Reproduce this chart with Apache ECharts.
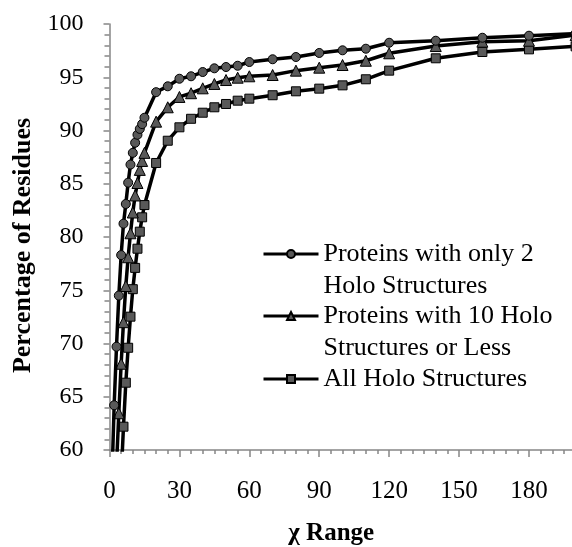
<!DOCTYPE html>
<html>
<head>
<meta charset="utf-8">
<script src="https://cdn.jsdelivr.net/npm/echarts@6/dist/echarts.min.js"></script>
<style>html,body{margin:0;padding:0;background:#fff}#c{width:572px;height:547px}</style>
</head>
<body>
<div id="c"></div>
<script>
// Series names
const seriesNames = [
  'Proteins with only 2\nHolo Structures',
  'Proteins with 10 Holo\nStructures or Less',
  'All Holo Structures'
];
// Circles: proteins with only 2 holo structures
const only2X = [1, 2, 3, 4, 5, 6, 7, 8, 9, 10, 11, 12, 13, 14, 15, 20, 25, 30, 35, 40, 45, 50, 55, 60, 70, 80, 90, 100, 110, 120, 140, 160, 180, 200];
const only2Y = [57.0, 64.2, 69.7, 74.5, 78.3, 81.25, 83.1, 85.1, 86.8, 87.9, 88.85, 89.6, 90.15, 90.6, 91.2, 93.6, 94.15, 94.86, 95.09, 95.49, 95.84, 95.96, 96.08, 96.43, 96.69, 96.9, 97.28, 97.53, 97.68, 98.24, 98.43, 98.71, 98.9, 99.1];
// Triangles: proteins with 10 holo structures or less
const upTo10X = [3, 4, 5, 6, 7, 8, 9, 10, 11, 12, 13, 14, 15, 20, 25, 30, 35, 40, 45, 50, 55, 60, 70, 80, 90, 100, 110, 120, 140, 160, 180, 200];
const upTo10Y = [58.5, 63.45, 68.1, 72.0, 75.4, 78.1, 80.35, 82.3, 83.9, 85.07, 86.3, 87.14, 87.9, 90.83, 92.18, 93.15, 93.5, 93.96, 94.37, 94.74, 94.96, 95.09, 95.21, 95.62, 95.9, 96.15, 96.55, 97.25, 97.93, 98.34, 98.43, 98.95];
// Squares: all holo structures
const allX = [5, 6, 7, 8, 9, 10, 11, 12, 13, 14, 15, 20, 25, 30, 35, 40, 45, 50, 55, 60, 70, 80, 90, 100, 110, 120, 140, 160, 180, 200];
const allY = [57.5, 62.19, 66.32, 69.6, 72.52, 75.1, 77.1, 78.9, 80.5, 81.85, 83.0, 86.95, 89.04, 90.3, 91.1, 91.67, 92.18, 92.49, 92.8, 92.99, 93.31, 93.68, 93.93, 94.24, 94.81, 95.62, 96.78, 97.37, 97.62, 97.9];
// Axis ticks
const xTicks = [0, 30, 60, 90, 120, 150, 180];
const yTicks = [60, 65, 70, 75, 80, 85, 90, 95, 100];

function pairs(xs, ys) { return xs.map((x, i) => [x, ys[i]]); }

const chart = echarts.init(document.getElementById('c'), null, {renderer: 'canvas'});
const serif = 'Liberation Serif';
const axisGray = '#868686';
const markerFill = '#595959';
const symbols = ['circle', 'triangle', 'rect'];
const symSizes = [9, 11, 9];
const datas = [pairs(only2X, only2Y), pairs(upTo10X, upTo10Y), pairs(allX, allY)];

const legendTops = [206, 268, 363];
const legends = seriesNames.map((n, i) => ({
  data: [n],
  orient: 'vertical',
  left: 262,
  top: legendTops[i],
  itemWidth: 55,
  itemHeight: 10,
  padding: 0,
  lineStyle: {width: 3},
  formatter: name => name.indexOf('\n') >= 0 ? '\u00a0\n' + name : name,
  textStyle: {fontFamily: serif, fontSize: 26, color: '#000', lineHeight: 32}
}));

chart.setOption({
  animation: false,
  grid: {left: 109.5, top: 24, width: 489.4, height: 426, containLabel: false, outerBoundsMode: 'none'},
  legend: legends,
  xAxis: {
    type: 'value', min: 0, max: 210, interval: 30,
    name: 'χ Range', nameLocation: 'middle', nameGap: 71, nameMoveOverlap: false,
    nameTextStyle: {fontFamily: serif, fontWeight: 'bold', fontSize: 25, color: '#000', padding: [0, 46, 0, 0]},
    axisLine: {show: true, lineStyle: {color: axisGray, width: 1.5}},
    axisTick: {show: true, inside: false, length: 7, lineStyle: {color: axisGray, width: 1.5}},
    minorTick: {show: true, splitNumber: 6, length: 4, lineStyle: {color: axisGray, width: 1.5}},
    splitLine: {show: false},
    axisLabel: {
      fontFamily: serif, fontSize: 25, color: '#000', margin: 29,
      formatter: v => xTicks.indexOf(v) >= 0 ? String(v) : ''
    }
  },
  yAxis: {
    type: 'value', min: 60, max: 100, interval: 5,
    name: 'Percentage of Residues', nameLocation: 'middle', nameGap: 73,
    nameTextStyle: {fontFamily: serif, fontWeight: 'bold', fontSize: 26, color: '#000', padding: [0, 17, 0, 0]},
    axisLine: {show: true, lineStyle: {color: axisGray, width: 1.5}},
    axisTick: {show: true, inside: false, length: 6, lineStyle: {color: axisGray, width: 1.5}},
    minorTick: {show: true, splitNumber: 5, length: 5, lineStyle: {color: axisGray, width: 1.5}},
    splitLine: {show: false},
    axisLabel: {
      fontFamily: serif, fontSize: 24, color: '#000', margin: 26,
      formatter: v => yTicks.indexOf(v) >= 0 ? String(v) : ''
    }
  },
  series: seriesNames.map((n, i) => ({
    name: n,
    type: 'line',
    data: datas[i],
    symbol: symbols[i],
    symbolSize: symSizes[i],
    showAllSymbol: true,
    clip: true,
    z: 10 - i,
    lineStyle: {color: '#000', width: 3.5},
    itemStyle: {color: markerFill, borderColor: '#000', borderWidth: 1},
    emphasis: {disabled: true}
  }))
});
</script>
</body>
</html>
